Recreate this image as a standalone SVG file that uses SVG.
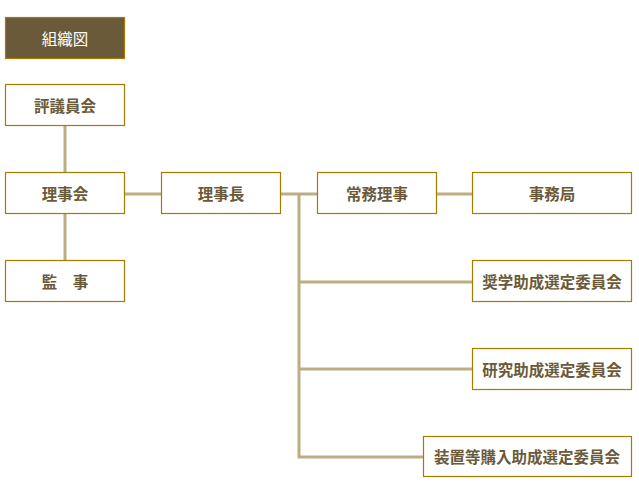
<svg xmlns="http://www.w3.org/2000/svg" width="639" height="500" viewBox="0 0 639 500">
<style>
.box{fill:#fff;stroke:#a67c00;stroke-width:1.2}
.t{font-family:"Noto Sans CJK JP",sans-serif;font-size:15.5px;font-weight:bold;fill:#6b5a3a;text-anchor:middle;dominant-baseline:central}
.c{stroke:#bcae82;stroke-width:3;fill:none}
</style>
<rect width="639" height="500" fill="#fff"/>
<g id="title">
<rect x="5.5" y="17.5" width="119" height="41" fill="#6b5a3a" stroke="#a67c00" stroke-width="1.2"/>
<text x="65" y="38" class="t" style="fill:#fff;font-weight:normal">組織図</text>
</g>
<g id="connectors">
<path class="c" d="M65 125V172M65 213V260M124 194H161M281 194H317M437 194H472"/>
<path class="c" d="M299 194V457H423M299 282H472M299 369H472"/>
</g>
<g id="hyogiinkai"><rect class="box" x="5.5" y="84.5" width="119" height="41"/><text class="t" x="65" y="105">評議員会</text></g>
<g id="rijikai"><rect class="box" x="5.5" y="172.5" width="119" height="41"/><text class="t" x="65" y="193">理事会</text></g>
<g id="kanji"><rect class="box" x="5.5" y="260.5" width="119" height="41"/><text class="t" x="65" y="281">監　事</text></g>
<g id="rijicho"><rect class="box" x="161.5" y="172.5" width="119" height="41"/><text class="t" x="221" y="193">理事長</text></g>
<g id="jomuriji"><rect class="box" x="317.5" y="172.5" width="119" height="41"/><text class="t" x="377" y="193">常務理事</text></g>
<g id="jimukyoku"><rect class="box" x="472.5" y="172.5" width="159" height="41"/><text class="t" x="552" y="193">事務局</text></g>
<g id="shogaku"><rect class="box" x="472.5" y="260.5" width="159" height="41"/><text class="t" x="552" y="281">奨学助成選定委員会</text></g>
<g id="kenkyu"><rect class="box" x="472.5" y="348.5" width="159" height="41"/><text class="t" x="552" y="369">研究助成選定委員会</text></g>
<g id="sochi"><rect class="box" x="423.5" y="436.5" width="208" height="40"/><text class="t" x="527" y="456">装置等購入助成選定委員会</text></g>
</svg>
